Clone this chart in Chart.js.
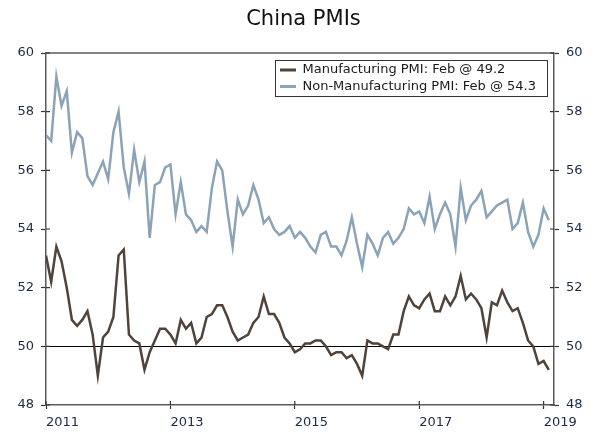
<!DOCTYPE html>
<html>
<head>
<meta charset="utf-8">
<title>China PMIs</title>
<script src="https://cdn.jsdelivr.net/npm/chart.js@4.4.1/dist/chart.umd.min.js"></script>
<style>
  html, body { margin: 0; padding: 0; background: #fff; }
  canvas { display: block; }
</style>
</head>
<body>
<canvas id="pmiChart" width="600" height="436"></canvas>
<script>
// monthly readings, Jan 2011 .. Feb 2019
var mfgPMI = [
  53.1, 52.2, 53.4, 52.9, 52.0, 50.9, 50.7, 50.9, 51.2, 50.4, 49.0, 50.3,
  50.5, 51.0, 53.1, 53.3, 50.4, 50.2, 50.1, 49.2, 49.8, 50.2, 50.6, 50.6,
  50.4, 50.1, 50.9, 50.6, 50.8, 50.1, 50.3, 51.0, 51.1, 51.4, 51.4, 51.0,
  50.5, 50.2, 50.3, 50.4, 50.8, 51.0, 51.7, 51.1, 51.1, 50.8, 50.3, 50.1,
  49.8, 49.9, 50.1, 50.1, 50.2, 50.2, 50.0, 49.7, 49.8, 49.8, 49.6, 49.7,
  49.4, 49.0, 50.2, 50.1, 50.1, 50.0, 49.9, 50.4, 50.4, 51.2, 51.7, 51.4,
  51.3, 51.6, 51.8, 51.2, 51.2, 51.7, 51.4, 51.7, 52.4, 51.6, 51.8, 51.6,
  51.3, 50.3, 51.5, 51.4, 51.9, 51.5, 51.2, 51.3, 50.8, 50.2, 50.0, 49.4,
  49.5, 49.2
];
var nonMfgPMI = [
  57.2, 57.0, 59.2, 58.2, 58.7, 56.6, 57.3, 57.1, 55.8, 55.5, 55.9, 56.3,
  55.7, 57.3, 58.0, 56.1, 55.2, 56.7, 55.6, 56.3, 53.7, 55.5, 55.6, 56.1,
  56.2, 54.5, 55.6, 54.5, 54.3, 53.9, 54.1, 53.9, 55.4, 56.3, 56.0, 54.6,
  53.4, 55.0, 54.5, 54.8, 55.5, 55.0, 54.2, 54.4, 54.0, 53.8, 53.9, 54.1,
  53.7, 53.9, 53.7, 53.4, 53.2, 53.8, 53.9, 53.4, 53.4, 53.1, 53.6, 54.4,
  53.5, 52.7, 53.8, 53.5, 53.1, 53.7, 53.9, 53.5, 53.7, 54.0, 54.7, 54.5,
  54.6, 54.2, 55.1, 54.0, 54.5, 54.9, 54.5, 53.4, 55.4, 54.3, 54.8, 55.0,
  55.3, 54.4, 54.6, 54.8, 54.9, 55.0, 54.0, 54.2, 54.9, 53.9, 53.4, 53.8,
  54.7, 54.3
];
var lastMonth = 'Feb';

// x ticks: month index -> year label
var tickIndex = [0, 24, 48, 72, 96];
var tickYears = ['2011', '2013', '2015', '2017', '2019'];

var FONT = 'DejaVu Sans, Verdana, sans-serif';
var MFG_COLOR = '#4f433a';
var NONMFG_COLOR = '#8ba3b6';
var TEXT_COLOR = '#1b2a48';
var AXIS_COLOR = '#5a5a5a';

function toPoints(arr) {
  var pts = [];
  for (var i = 0; i < arr.length; i++) {
    pts.push({x: i, y: arr[i]});
  }
  return pts;
}

// legend sits inside the plot, top right, with a thin frame
var legendFrame = {
  id: 'legendFrame',
  beforeDraw: function(chart) {
    var lg = chart.legend, ca = chart.chartArea, ctx = chart.ctx;
    if (!lg || !lg.legendHitBoxes) return;
    var itemW = 0;
    lg.legendHitBoxes.forEach(function(h) { itemW = Math.max(itemW, h.width); });
    var pad = lg.options.labels.padding;
    var boxRight = ca.right - 7, boxTop = ca.top + 7;
    var boxW = 5 + itemW + 11, boxH = 36;
    var boxLeft = boxRight - boxW;
    lg.left = boxLeft + 5 - pad;
    lg.top = boxTop;
    lg.width = itemW + 2 * pad;
    lg.right = lg.left + lg.width;
    lg.height = 200;
    lg.bottom = lg.top + lg.height;
    ctx.save();
    ctx.fillStyle = '#fff';
    ctx.fillRect(boxLeft, boxTop, boxW, boxH);
    ctx.strokeStyle = '#333';
    ctx.lineWidth = 1;
    ctx.strokeRect(boxLeft + 0.5, boxTop + 0.5, boxW, boxH);
    ctx.restore();
  }
};

// top frame line and the inner half of the tick marks
var frameAndTicks = {
  id: 'frameAndTicks',
  afterDraw: function(chart) {
    var ctx = chart.ctx, ca = chart.chartArea, s = chart.scales;
    ctx.save();
    ctx.strokeStyle = AXIS_COLOR;
    ctx.lineWidth = 1.5;
    ctx.beginPath();
    ctx.moveTo(ca.left, ca.top);
    ctx.lineTo(ca.right, ca.top);
    ctx.stroke();

    ctx.strokeStyle = '#333';
    ctx.lineWidth = 1.2;
    ctx.beginPath();
    s.x.ticks.forEach(function(t) {
      var px = s.x.getPixelForValue(t.value);
      ctx.moveTo(px, ca.bottom);
      ctx.lineTo(px, ca.bottom - 4);
    });
    s.y.ticks.forEach(function(t) {
      var py = s.y.getPixelForValue(t.value);
      ctx.moveTo(ca.left, py);
      ctx.lineTo(ca.left + 4, py);
    });
    s.y2.ticks.forEach(function(t) {
      var py = s.y2.getPixelForValue(t.value);
      ctx.moveTo(ca.right, py);
      ctx.lineTo(ca.right - 4, py);
    });
    ctx.stroke();
    ctx.restore();
  }
};

var ctx = document.getElementById('pmiChart').getContext('2d');
var myChart = new Chart(ctx, {
  type: 'line',
  data: {
    datasets: [
      {
        label: 'Manufacturing PMI: ' + lastMonth + ' @ ' + mfgPMI[mfgPMI.length - 1].toFixed(1),
        data: toPoints(mfgPMI),
        borderColor: MFG_COLOR,
        backgroundColor: MFG_COLOR,
        borderWidth: 2.5,
        pointRadius: 0,
        tension: 0,
        yAxisID: 'y'
      },
      {
        label: 'Non-Manufacturing PMI: ' + lastMonth + ' @ ' + nonMfgPMI[nonMfgPMI.length - 1].toFixed(1),
        data: toPoints(nonMfgPMI),
        borderColor: NONMFG_COLOR,
        backgroundColor: NONMFG_COLOR,
        borderWidth: 2.5,
        pointRadius: 0,
        tension: 0,
        yAxisID: 'y'
      }
    ]
  },
  options: {
    responsive: false,
    animation: false,
    layout: { padding: { left: 7, right: 0, top: 0, bottom: 0 } },
    plugins: {
      title: {
        display: true,
        text: 'China PMIs',
        color: '#111',
        font: { family: FONT, size: 21, weight: 'normal' },
        padding: { top: 7, bottom: 20.8 }
      },
      legend: {
        position: 'chartArea',
        align: 'start',
        labels: {
          color: '#1a1a1a',
          font: { family: FONT, size: 13 },
          boxWidth: 16,
          boxHeight: 3,
          padding: 3.5,
          generateLabels: function(chart) {
            var items = Chart.defaults.plugins.legend.labels.generateLabels(chart);
            items.forEach(function(it) {
              it.fillStyle = it.strokeStyle;
              it.lineWidth = 0;
            });
            return items;
          }
        }
      },
      tooltip: { enabled: false }
    },
    scales: {
      x: {
        type: 'linear',
        min: 0,
        max: mfgPMI.length,
        afterBuildTicks: function(scale) {
          scale.ticks = tickIndex.map(function(v) { return {value: v}; });
        },
        afterFit: function(scale) { scale.height = 31; },
        ticks: {
          align: 'start',
          padding: 5.5,
          maxRotation: 0,
          autoSkip: false,
          color: TEXT_COLOR,
          font: { family: FONT, size: 13 },
          callback: function(v) {
            var k = tickIndex.indexOf(v);
            return k < 0 ? null : tickYears[k];
          }
        },
        grid: {
          drawOnChartArea: false,
          tickLength: 4,
          tickColor: '#333',
          tickWidth: 1.2
        },
        border: { color: AXIS_COLOR, width: 1.5 }
      },
      y: {
        position: 'left',
        min: 48,
        max: 60,
        afterFit: function(scale) { scale.width = 39; },
        ticks: {
          stepSize: 2,
          padding: 7,
          color: TEXT_COLOR,
          font: { family: FONT, size: 13 }
        },
        grid: {
          drawOnChartArea: true,
          color: function(c) { return c.tick && c.tick.value === 50 ? '#000' : 'rgba(0,0,0,0)'; },
          lineWidth: 1,
          tickLength: 5,
          tickColor: '#333',
          tickWidth: 1.2
        },
        border: { color: AXIS_COLOR, width: 1.5 }
      },
      y2: {
        position: 'right',
        min: 48,
        max: 60,
        afterFit: function(scale) { scale.width = 46; },
        ticks: {
          stepSize: 2,
          padding: 7,
          color: TEXT_COLOR,
          font: { family: FONT, size: 13 }
        },
        grid: {
          drawOnChartArea: false,
          tickLength: 5,
          tickColor: '#333',
          tickWidth: 1.2
        },
        border: { color: AXIS_COLOR, width: 1.5 }
      }
    }
  },
  plugins: [legendFrame, frameAndTicks]
});
</script>
</body>
</html>
